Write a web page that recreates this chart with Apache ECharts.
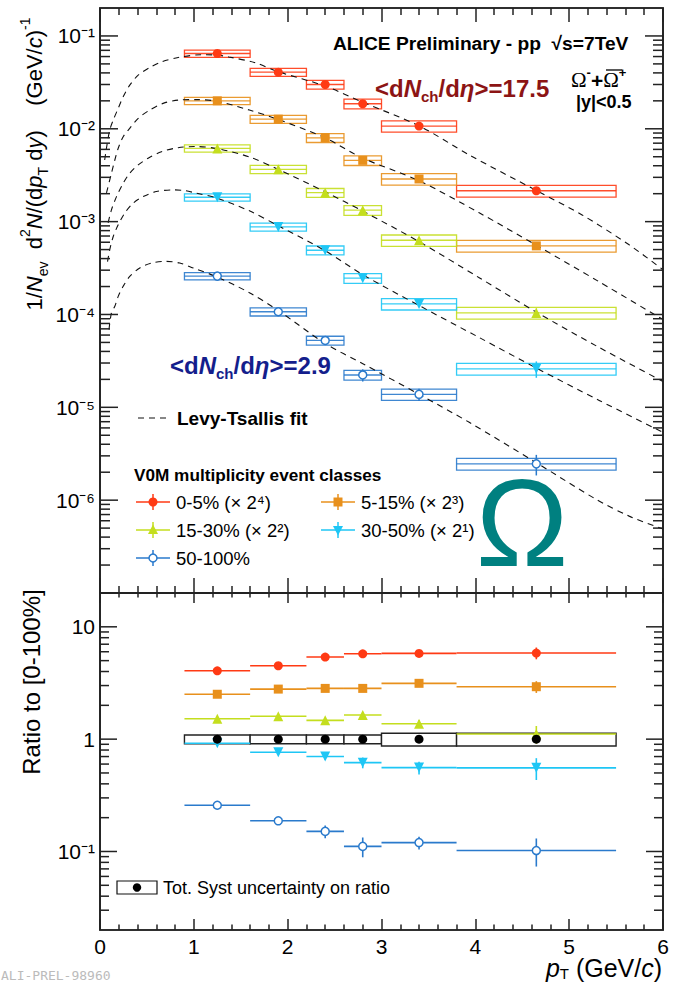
<!DOCTYPE html>
<html><head><meta charset="utf-8">
<script src="https://cdn.jsdelivr.net/npm/echarts@6/dist/echarts.min.js"></script>
<style>html,body{margin:0;padding:0;background:#fff}
#c,#t{width:677px;height:983px;position:absolute;left:0;top:0}
#t{pointer-events:none}
</style>
</head><body><div id="c"></div><div id="t"></div>
<script>
// ---------------- data ----------------
const binEdges = [0.9, 1.6, 2.2, 2.6, 3.0, 3.8, 5.5];
const ptCenters = [1.25, 1.9, 2.4, 2.8, 3.4, 4.65];
const classNames = ['0-5% (× 2⁴)', '5-15% (× 2³)', '15-30% (× 2²)', '30-50% (× 2¹)', '50-100%'];

const yield0_5   = [0.0647, 0.0407, 0.0300, 0.0186, 0.0107, 0.00215];
const yield5_15  = [0.0200, 0.0127, 0.0080, 0.00457, 0.00288, 0.000548];
const yield15_30 = [0.00615, 0.00366, 0.00205, 0.00133, 0.00063, 0.000104];
const yield30_50 = [0.00183, 0.000877, 0.000492, 0.000246, 0.000130, 0.000026];
const yield50_100= [0.000259, 0.000107, 0.0000525, 0.0000223, 0.0000138, 0.00000246];
const spectraSyst = [0.09, 0.10, 0.11, 0.12, 0.14, 0.145];
const stat0_5   = [0.02, 0.02, 0.02, 0.03, 0.03, 0.06];
const stat5_15  = [0.02, 0.02, 0.03, 0.03, 0.04, 0.07];
const stat15_30 = [0.02, 0.03, 0.03, 0.04, 0.05, 0.12];
const stat30_50 = [0.03, 0.03, 0.04, 0.05, 0.06, 0.20];
const stat50_100= [0.04, 0.05, 0.08, 0.15, 0.15, 0.25];

// Levy-Tsallis fits [pT, value]
const fit0_5 = [[0.05,0.00461],[0.069,0.00621],[0.104,0.0097],[0.141,0.01241],[0.194,0.0166],[0.247,0.0221],[0.317,0.0295],[0.407,0.0378],[0.53,0.0457],[0.655,0.0526],[0.833,0.0586],[1.078,0.0627],[1.237,0.0623],[1.372,0.0594],[1.645,0.0518],[1.901,0.0412],[2.401,0.0288],[2.796,0.0194],[3.403,0.01072],[3.935,0.00523],[4.659,0.00214],[5.138,0.00118],[5.639,0.000563],[6.0,0.000303]];
const fit5_15 = [[0.069,0.00204],[0.122,0.00332],[0.158,0.00461],[0.194,0.00617],[0.247,0.00822],[0.317,0.01012],[0.407,0.01295],[0.53,0.01591],[0.673,0.01879],[0.833,0.02038],[1.028,0.02061],[1.241,0.01987],[1.592,0.01591],[1.901,0.01259],[2.401,0.00796],[2.796,0.00485],[3.403,0.00275],[4.041,0.001245],[4.659,0.00055],[5.32,0.000225],[6.0,0.0000881]];
const fit15_30 = [[0.087,0.000971],[0.122,0.00134],[0.176,0.00186],[0.247,0.00259],[0.317,0.00332],[0.407,0.00408],[0.513,0.00482],[0.655,0.00567],[0.833,0.00625],[1.006,0.00644],[1.241,0.00614],[1.592,0.00498],[1.901,0.00365],[2.401,0.00209],[2.796,0.001306],[3.403,0.000607],[4.041,0.000249],[4.659,0.0001047],[5.32,0.0000441],[6.0,0.000019]];
const fit30_50 = [[0.08,0.00037],[0.104,0.000498],[0.141,0.000692],[0.194,0.000924],[0.264,0.001236],[0.354,0.001583],[0.46,0.001862],[0.602,0.002108],[0.78,0.002198],[0.903,0.00216],[1.028,0.002024],[1.241,0.001803],[1.592,0.001306],[1.901,0.000901],[2.401,0.000485],[2.796,0.00027],[3.403,0.0001245],[4.041,0.0000565],[4.659,0.0000262],[5.32,0.00001186],[6.0,0.00000538]];
const fit50_100 = [[0.096,0.0000687],[0.122,0.000104],[0.158,0.0001225],[0.194,0.0001567],[0.247,0.000201],[0.317,0.000257],[0.424,0.000317],[0.548,0.000358],[0.708,0.000373],[0.85,0.000358],[0.993,0.000317],[1.241,0.000255],[1.592,0.0001718],[1.901,0.0001101],[2.401,0.0000486],[2.796,0.0000297],[3.403,0.00001377],[3.935,0.00000689],[4.659,0.0000025],[5.284,0.000001026],[5.639,0.000000673],[6.0,0.000000489]];

const ratio0_5   = [4.06, 4.50, 5.38, 5.75, 5.80, 5.84];
const ratio5_15  = [2.51, 2.79, 2.83, 2.83, 3.14, 2.93];
const ratio15_30 = [1.52, 1.60, 1.47, 1.64, 1.37, 1.11];
const ratio30_50 = [0.92, 0.764, 0.70, 0.618, 0.558, 0.555];
const ratio50_100= [0.258, 0.1875, 0.151, 0.111, 0.120, 0.102];
const ratioRef   = [1, 1, 1, 1, 1, 1];
const ratioSyst  = [0.09, 0.09, 0.09, 0.09, 0.13, 0.13];
const rstat0_5   = [0.03, 0.03, 0.04, 0.05, 0.05, 0.12];
const rstat5_15  = [0.03, 0.03, 0.04, 0.05, 0.06, 0.12];
const rstat15_30 = [0.03, 0.04, 0.05, 0.06, 0.08, 0.18];
const rstat30_50 = [0.05, 0.05, 0.07, 0.11, 0.13, 0.22];
const rstat50_100= [0.05, 0.07, 0.13, 0.20, 0.13, 0.28];

const xTickValues = [0, 1, 2, 3, 4, 5, 6];
const yTicksTop = [1e-6, 1e-5, 1e-4, 1e-3, 1e-2, 1e-1];
const yTickLabelsTop = ['10⁻⁶', '10⁻⁵', '10⁻⁴', '10⁻³', '10⁻²', '10⁻¹'];
const yTicksBot = [0.1, 1, 10];
const yTickLabelsBot = ['10⁻¹', '1', '10'];

const FONT = '"Liberation Sans", Arial, Helvetica, sans-serif';
const COLORS = ['#FF3A14', '#E8901C', '#C4DE1E', '#1EC6F5', '#2A7ACC'];
const FRAME = '#222222';

const classes = [
  {y: yield0_5, st: stat0_5, fit: fit0_5, r: ratio0_5, rs: rstat0_5, symbol: 'circle', size: 9, rot: 0, open: false},
  {y: yield5_15, st: stat5_15, fit: fit5_15, r: ratio5_15, rs: rstat5_15, symbol: 'rect', size: 9, rot: 0, open: false},
  {y: yield15_30, st: stat15_30, fit: fit15_30, r: ratio15_30, rs: rstat15_30, symbol: 'triangle', size: 10, rot: 0, open: false},
  {y: yield30_50, st: stat30_50, fit: fit30_50, r: ratio30_50, rs: rstat30_50, symbol: 'triangle', size: 10, rot: 180, open: false},
  {y: yield50_100, st: stat50_100, fit: fit50_100, r: ratio50_100, rs: rstat50_100, symbol: 'circle', size: 8, rot: 0, open: true}
];

const GRIDS = [
  {left: 100, top: 8, width: 563, height: 585, show: true, borderColor: FRAME, borderWidth: 1.7},
  {left: 100, top: 593, width: 563, height: 337, show: true, borderColor: FRAME, borderWidth: 1.7}
];

function specBoxSeries(c, color) {
  return {
    type: 'custom', xAxisIndex: 0, yAxisIndex: 0, silent: true, z: 2,
    data: c.y.map((v, i) => [ptCenters[i], v, binEdges[i], binEdges[i + 1], spectraSyst[i], c.st[i]]),
    encode: {x: 0, y: 1},
    renderItem(p, api) {
      const xc = api.value(0), v = api.value(1), x0 = api.value(2), x1 = api.value(3), s = api.value(4), e = api.value(5);
      const tl = api.coord([x0, v * (1 + s)]), br = api.coord([x1, v * (1 - s)]);
      const l = api.coord([x0, v]), r = api.coord([x1, v]);
      const u = api.coord([xc, v * (1 + e)]), d = api.coord([xc, v * (1 - e)]);
      return {type: 'group', children: [
        {type: 'rect', shape: {x: tl[0], y: tl[1], width: br[0] - tl[0], height: br[1] - tl[1]}, style: {stroke: color, lineWidth: 1.3, fill: 'none', opacity: 0.9}},
        {type: 'line', shape: {x1: l[0], y1: l[1], x2: r[0], y2: r[1]}, style: {stroke: color, lineWidth: 1.3, opacity: 0.9}},
        {type: 'line', shape: {x1: u[0], y1: u[1], x2: d[0], y2: d[1]}, style: {stroke: color, lineWidth: 1.5}}
      ]};
    }
  };
}

function ratioLineSeries(vals, rel, color) {
  return {
    type: 'custom', xAxisIndex: 2, yAxisIndex: 1, silent: true, z: 3,
    data: vals.map((v, i) => [ptCenters[i], v, binEdges[i], binEdges[i + 1], rel[i]]),
    encode: {x: 0, y: 1},
    renderItem(p, api) {
      const xc = api.value(0), v = api.value(1), x0 = api.value(2), x1 = api.value(3), e = api.value(4);
      const l = api.coord([x0, v]), r = api.coord([x1, v]);
      const u = api.coord([xc, v * (1 + e)]), d = api.coord([xc, v * (1 - e)]);
      return {type: 'group', children: [
        {type: 'line', shape: {x1: l[0], y1: l[1], x2: r[0], y2: r[1]}, style: {stroke: color, lineWidth: 1.6}},
        {type: 'line', shape: {x1: u[0], y1: u[1], x2: d[0], y2: d[1]}, style: {stroke: color, lineWidth: 1.6}}
      ]};
    }
  };
}

function markerSeries(xi, yi, vals, c, color) {
  return {
    type: 'scatter', xAxisIndex: xi, yAxisIndex: yi, silent: true, z: 5,
    data: vals.map((v, i) => [ptCenters[i], v]),
    symbol: c.symbol, symbolSize: c.size, symbolRotate: c.rot,
    itemStyle: c.open ? {color: '#fff', borderColor: color, borderWidth: 1.5, opacity: 1}
                      : {color: color, opacity: 1}
  };
}

const series = [];
classes.forEach((c, k) => {
  const col = COLORS[k];
  series.push(specBoxSeries(c, col));
  series.push({
    type: 'line', xAxisIndex: 0, yAxisIndex: 0, data: c.fit, smooth: 0.3, showSymbol: false, silent: true, z: 3,
    lineStyle: {color: '#111', width: 1.1, type: [6, 5]}
  });
  series.push(markerSeries(0, 0, c.y, c, col));
});
series.push({
  type: 'custom', xAxisIndex: 2, yAxisIndex: 1, silent: true, z: 2,
  data: ratioRef.map((v, i) => [ptCenters[i], v, binEdges[i], binEdges[i + 1], ratioSyst[i]]),
  encode: {x: 0, y: 1},
  renderItem(p, api) {
    const v = api.value(1), x0 = api.value(2), x1 = api.value(3), s = api.value(4);
    const tl = api.coord([x0, v * (1 + s)]), br = api.coord([x1, v * (1 - s)]);
    return {type: 'rect', shape: {x: tl[0], y: tl[1], width: br[0] - tl[0], height: br[1] - tl[1]},
      style: {stroke: '#222', lineWidth: 1.4, fill: '#fff'}};
  }
});
classes.forEach((c, k) => {
  const col = COLORS[k];
  series.push(ratioLineSeries(c.r, c.rs, col));
  series.push(markerSeries(2, 1, c.r, c, col));
});
series.push(markerSeries(2, 1, ratioRef, {symbol: 'circle', size: 9, rot: 0, open: false}, '#000'));

function labelFrom(ticks, labels) {
  return v => {
    for (let i = 0; i < ticks.length; i++) if (Math.abs(Math.log10(v) - Math.log10(ticks[i])) < 1e-6) return labels[i];
    return '';
  };
}

function makeXAxes(withTicks) {
  const t = (maj, min) => withTicks ? {
    axisTick: {show: true, inside: true, length: maj, lineStyle: {color: FRAME, width: 1.5}},
    minorTick: {show: true, splitNumber: 5, length: min, lineStyle: {color: FRAME, width: 1.5}}
  } : {axisTick: {show: false}, minorTick: {show: false}};
  const base = {type: 'value', min: 0, max: 6, interval: 1, splitLine: {show: false}, axisLine: {show: false}};
  return [
    Object.assign({}, base, {gridIndex: 0, position: 'bottom', axisLabel: {show: false}}, t(15, 7)),
    Object.assign({}, base, {gridIndex: 0, position: 'top', axisLabel: {show: false}}, t(14, 7)),
    Object.assign({}, base, {gridIndex: 1, position: 'bottom',
      axisLabel: withTicks ? {show: false} : {show: true, fontSize: 21, color: '#000', fontFamily: FONT, margin: 6,
        formatter: v => (xTickValues.indexOf(v) >= 0 ? String(v) : '')}}, t(11, 5.5)),
    Object.assign({}, base, {gridIndex: 1, position: 'top', axisLabel: {show: false}}, t(10, 4.5))
  ];
}
function makeYAxes(withLabels) {
  return [
    {type: 'log', logBase: 10, gridIndex: 0, min: 1e-7, max: 0.2, splitNumber: 7,
      splitLine: {show: false}, axisLine: {show: false}, axisTick: {show: false},
      axisLabel: withLabels ? {fontSize: 21, color: '#000', fontFamily: FONT, margin: 5, formatter: labelFrom(yTicksTop, yTickLabelsTop)} : {show: false}},
    {type: 'log', logBase: 10, gridIndex: 1, min: 0.02, max: 20, splitNumber: 3,
      splitLine: {show: false}, axisLine: {show: false}, axisTick: {show: false},
      axisLabel: withLabels ? {fontSize: 21, color: '#000', fontFamily: FONT, margin: 5, formatter: labelFrom(yTicksBot, yTickLabelsBot)} : {show: false}}
  ];
}

// ---------------- graphics (texts, legends) ----------------
const G = [];
function txt(x, y, text, o) {
  const st = Object.assign({text: text, fontFamily: FONT, fontSize: 16, fill: '#000',
    textAlign: 'left', textVerticalAlign: 'middle'}, o || {});
  st.align = st.textAlign;
  st.verticalAlign = st.textVerticalAlign;
  return {type: 'text', x: x, y: y, style: st, z: 20};
}
G.push(txt(333, 43, 'ALICE Preliminary - pp  √s=7TeV', {fontSize: 19.2, fontWeight: 'bold'}));
G.push(txt(571, 80, '{o|Ω}{sp|-}{b|+}{o|Ω}{sp|+}', {rich: {
  o: {fontSize: 21, fontFamily: '"Liberation Serif", serif', lineHeight: 28},
  sp: {fontSize: 13, fontWeight: 'bold', verticalAlign: 'top', lineHeight: 13},
  b: {fontSize: 21, fontWeight: 'bold', lineHeight: 28}}}));
G.push({type: 'line', shape: {x1: 606, y1: 70, x2: 622, y2: 70}, style: {stroke: '#000', lineWidth: 1.3}, z: 20});
G.push(txt(576, 102, '|y|<0.5', {fontSize: 18, fontWeight: 'bold'}));

const dnRich = (col) => ({
  t: {fontSize: 24, fontWeight: 'bold', fill: col, lineHeight: 32},
  i: {fontSize: 24, fontWeight: 'bold', fontStyle: 'italic', fill: col, lineHeight: 32},
  s: {fontSize: 15, fontWeight: 'bold', fill: col, verticalAlign: 'bottom', lineHeight: 16}
});
G.push(txt(375, 88, '{t|<d}{i|N}{s|ch}{t|/d}{i|η}{t|>=17.5}', {rich: dnRich('#8C1414')}));
G.push(txt(170, 365, '{t|<d}{i|N}{s|ch}{t|/d}{i|η}{t|>=2.9}', {rich: dnRich('#141E8C')}));

G.push({type: 'line', shape: {x1: 138, y1: 418, x2: 171, y2: 418}, style: {stroke: '#111', lineWidth: 1.1, lineDash: [6, 5]}, z: 20});
G.push(txt(177, 418, 'Levy-Tsallis fit', {fontSize: 19, fontWeight: 'bold'}));

G.push(txt(134, 475, 'V0M multiplicity event classes', {fontSize: 17.2, fontWeight: 'bold'}));
const legPos = [[153, 502], [338, 502], [153, 530], [338, 530], [153, 558]];
classes.forEach((c, k) => {
  const [cx, cy] = legPos[k];
  const col = COLORS[k];
  G.push({type: 'line', shape: {x1: cx - 17, y1: cy, x2: cx + 17, y2: cy}, style: {stroke: col, lineWidth: 1.5}, z: 20});
  G.push({type: 'line', shape: {x1: cx, y1: cy - 8, x2: cx, y2: cy + 8}, style: {stroke: col, lineWidth: 1.5}, z: 20});
  let m;
  if (c.symbol === 'circle') m = {type: 'circle', shape: {cx: cx, cy: cy, r: c.open ? 4 : 4.5},
    style: c.open ? {fill: '#fff', stroke: col, lineWidth: 1.5} : {fill: col}};
  else if (c.symbol === 'rect') m = {type: 'rect', shape: {x: cx - 4.5, y: cy - 4.5, width: 9, height: 9}, style: {fill: col}};
  else if (c.rot === 0) m = {type: 'polygon', shape: {points: [[cx, cy - 5.5], [cx + 5, cy + 4], [cx - 5, cy + 4]]}, style: {fill: col}};
  else m = {type: 'polygon', shape: {points: [[cx, cy + 5.5], [cx + 5, cy - 4], [cx - 5, cy - 4]]}, style: {fill: col}};
  m.z = 21;
  G.push(m);
  G.push(txt(cx + 23, cy, classNames[k], {fontSize: 18.5}));
});

G.push(txt(522, 523, 'Ω', {fontSize: 124, fill: '#008080', textAlign: 'center', fontFamily: FONT}));

G.push({type: 'rect', shape: {x: 117, y: 881, width: 40, height: 13}, style: {fill: '#fff', stroke: '#111', lineWidth: 1.2}, z: 20});
G.push({type: 'circle', shape: {cx: 137, cy: 887.5, r: 4.2}, style: {fill: '#000'}, z: 21});
G.push(txt(163, 887.5, 'Tot. Syst uncertainty on ratio', {fontSize: 18}));

const titleRich = {
  r: {fontSize: 22, lineHeight: 32},
  i: {fontSize: 22, fontStyle: 'italic', lineHeight: 32},
  sb: {fontSize: 14, verticalAlign: 'bottom', lineHeight: 16},
  sp: {fontSize: 14, verticalAlign: 'top', lineHeight: 16}
};
G.push({type: 'text', x: 34, y: 164, rotation: Math.PI / 2, z: 20,
  style: {text: '{r|1/}{i|N}{sb|ev}{r|  d}{sp|2}{i|N}{r|/(d}{i|p}{sb|T}{r| d}{i|y}{r|)    (GeV/}{i|c}{r|)}{sp|-1}',
    rich: titleRich, fontFamily: FONT, fill: '#000', align: 'center', verticalAlign: 'middle', textAlign: 'center', textVerticalAlign: 'middle'}});
G.push({type: 'text', x: 31, y: 682, rotation: Math.PI / 2, z: 20,
  style: {text: 'Ratio to [0-100%]', fontSize: 24, fontFamily: FONT, fill: '#000', align: 'center', verticalAlign: 'middle', textAlign: 'center', textVerticalAlign: 'middle'}});
G.push(txt(662, 968, '{i|p}{sb|T}{r| (GeV/}{i|c}{r|)}', {textAlign: 'right', rich: {
  r: {fontSize: 25, lineHeight: 26}, i: {fontSize: 25, fontStyle: 'italic', lineHeight: 26},
  sb: {fontSize: 15, verticalAlign: 'bottom', lineHeight: 14}}}));
G.push(txt(1, 969, 'ALI-PREL-98960', {fontSize: 13, fill: '#bbb', fontFamily: '"DejaVu Sans Mono", monospace', textVerticalAlign: 'top'}));

// ---------------- main chart ----------------
const chart = echarts.init(document.getElementById('c'), null, {renderer: 'svg'});
chart.setOption({
  animation: false,
  textStyle: {fontFamily: FONT},
  grid: GRIDS,
  xAxis: makeXAxes(false),
  yAxis: makeYAxes(true),
  series: series,
  graphic: G
});

// ---------------- frame and ticks (same axes, drawn on top) ----------------
function logTickData(lo, hi) {
  const out = [];
  for (let e = -8; e <= 2; e++) for (let k = 1; k <= 9; k++) {
    const v = k * Math.pow(10, e);
    if (v > lo * 1.0001 && v < hi * 0.9999) out.push([3, v, k === 1 ? 1 : 0]);
  }
  return out;
}
function yTickSeries(xi, yi, lo, hi, majLen, minLen) {
  return {type: 'custom', xAxisIndex: xi, yAxisIndex: yi, silent: true,
    data: logTickData(lo, hi), encode: {x: 0, y: 1},
    renderItem(p, api) {
      const v = api.value(1);
      const L = api.value(2) ? majLen : minLen;
      const a = api.coord([0, v]), b = api.coord([6, v]);
      return {type: 'group', children: [
        {type: 'line', shape: {x1: a[0], y1: a[1], x2: a[0] + L, y2: a[1]}, style: {stroke: FRAME, lineWidth: 1.5}},
        {type: 'line', shape: {x1: b[0], y1: b[1], x2: b[0] - L, y2: b[1]}, style: {stroke: FRAME, lineWidth: 1.5}}
      ]};
    }};
}
const tickChart = echarts.init(document.getElementById('t'), null, {renderer: 'svg'});
tickChart.setOption({
  animation: false,
  backgroundColor: 'transparent',
  grid: GRIDS,
  xAxis: makeXAxes(true),
  yAxis: makeYAxes(false),
  series: [yTickSeries(0, 0, 1e-7, 0.2, 18, 10), yTickSeries(2, 1, 0.02, 20, 17, 9)]
});
</script>
</body></html>
